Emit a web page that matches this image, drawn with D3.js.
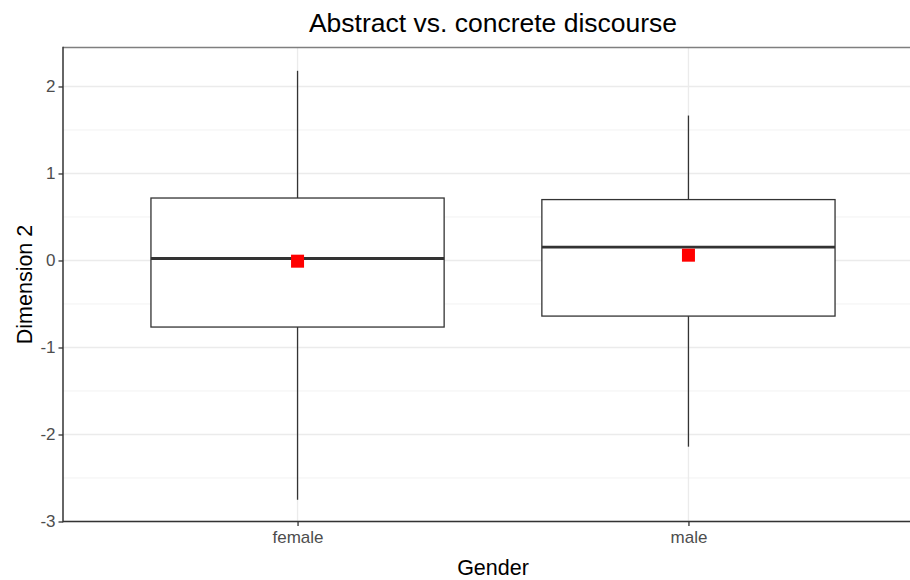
<!DOCTYPE html>
<html><head><meta charset="utf-8">
<script src="https://cdn.jsdelivr.net/npm/d3@7"></script>
<style>body{margin:0;background:#fff;} text{font-family:"Liberation Sans",Arial,sans-serif;}</style>
</head><body><svg id="c" width="910" height="580"></svg>
<script>
const categories = ["female", "male"];
const whiskerLow = [-2.75, -2.14];
const q1 = [-0.765, -0.639];
const median = [0.023, 0.153];
const q3 = [0.718, 0.70];
const whiskerHigh = [2.18, 1.666];
const means = [-0.008, 0.061];
const yTicks = [-3, -2, -1, 0, 1, 2];
const yMinor = [-2.5, -1.5, -0.5, 0.5, 1.5];
const title = "Abstract vs. concrete discourse";
const xTitle = "Gender";
const yTitle = "Dimension 2";

const svg = d3.select("#c");
const L = 63, T = 47.5, B = 521.5, R = 923;
const x = d3.scalePoint().domain(categories).range([L, R]).padding(0.6);
const step = x.step();
const y = d3.scaleLinear().domain([-3, 2.448]).range([B, T]);

// grid
const g = svg.append("g");
g.selectAll(".mn").data(yMinor).join("line")
  .attr("x1", L).attr("x2", R).attr("y1", d => y(d)).attr("y2", d => y(d))
  .attr("stroke", "#f2f2f2").attr("stroke-width", 1);
g.selectAll(".mj").data(yTicks).join("line")
  .attr("x1", L).attr("x2", R).attr("y1", d => y(d)).attr("y2", d => y(d))
  .attr("stroke", "#ebebeb").attr("stroke-width", 1.3);
g.selectAll(".vx").data(categories).join("line")
  .attr("x1", d => x(d)).attr("x2", d => x(d)).attr("y1", T).attr("y2", B)
  .attr("stroke", "#ebebeb").attr("stroke-width", 1.3);

// boxes
const bw = step * 0.75;
const data = categories.map((c, i) => ({c, lo: whiskerLow[i], q1: q1[i], med: median[i], q3: q3[i], hi: whiskerHigh[i], mean: means[i]}));
const bx = svg.append("g").selectAll("g").data(data).join("g");
bx.append("line").attr("x1", d => x(d.c)).attr("x2", d => x(d.c))
  .attr("y1", d => y(d.hi)).attr("y2", d => y(d.q3)).attr("stroke", "#333").attr("stroke-width", 1.3);
bx.append("line").attr("x1", d => x(d.c)).attr("x2", d => x(d.c))
  .attr("y1", d => y(d.q1)).attr("y2", d => y(d.lo)).attr("stroke", "#333").attr("stroke-width", 1.3);
bx.append("rect").attr("x", d => x(d.c) - bw / 2).attr("width", bw)
  .attr("y", d => y(d.q3)).attr("height", d => y(d.q1) - y(d.q3))
  .attr("fill", "#fff").attr("stroke", "#333").attr("stroke-width", 1.3);
bx.append("line").attr("x1", d => x(d.c) - bw / 2).attr("x2", d => x(d.c) + bw / 2)
  .attr("y1", d => y(d.med)).attr("y2", d => y(d.med)).attr("stroke", "#333").attr("stroke-width", 2.8);
bx.append("rect").attr("x", d => x(d.c) - 6.5).attr("y", d => y(d.mean) - 6.5)
  .attr("width", 13).attr("height", 13).attr("fill", "#ff0000");

// border
svg.append("line").attr("x1", L).attr("x2", R).attr("y1", T).attr("y2", T).attr("stroke", "#7f7f7f").attr("stroke-width", 1.5);

// axes
const ya = svg.append("g").attr("transform", `translate(${L},0)`)
  .call(d3.axisLeft(y).tickValues(yTicks).tickSize(4.5).tickPadding(3).tickFormat(d => String(d)));
const xa = svg.append("g").attr("transform", `translate(0,${B})`)
  .call(d3.axisBottom(x).tickSize(4.5).tickPadding(5));
[ya, xa].forEach(a => {
  a.select(".domain").remove();
  a.selectAll(".tick line").attr("stroke", "#333").attr("stroke-width", 1.3);
  a.selectAll(".tick text").attr("fill", "#4d4d4d").style("font-size", "17px")
    .style("font-family", '"Liberation Sans",Arial,sans-serif');
});
svg.append("line").attr("x1", L).attr("x2", L).attr("y1", T - 0.75).attr("y2", B + 0.75).attr("stroke", "#333").attr("stroke-width", 1.5);
svg.append("line").attr("x1", L).attr("x2", R).attr("y1", B).attr("y2", B).attr("stroke", "#333").attr("stroke-width", 1.5);

// titles
svg.append("text").attr("x", (L + R) / 2).attr("y", 31.5).attr("text-anchor", "middle")
  .style("font-size", "26.5px").attr("fill", "#000").text(title);
svg.append("text").attr("x", (L + R) / 2).attr("y", 575).attr("text-anchor", "middle")
  .style("font-size", "21.5px").attr("fill", "#000").text(xTitle);
svg.append("text").attr("transform", `translate(31.5,${(T + B) / 2}) rotate(-90)`).attr("text-anchor", "middle")
  .style("font-size", "21.5px").attr("fill", "#000").text(yTitle);
</script></body></html>
